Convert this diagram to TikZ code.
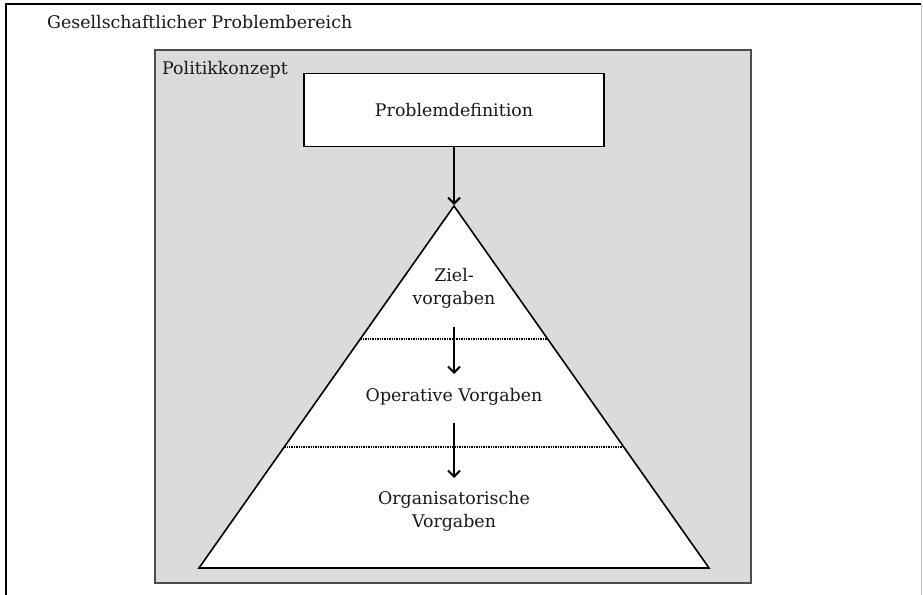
\documentclass[tikz,border=0pt]{standalone}
\usepackage{fontspec}
\setmainfont{DejaVu Serif}
\usetikzlibrary{arrows.meta,positioning,calc}

\tikzset{
  label text/.style={font=\fontsize{17.4}{23}\selectfont, align=center, inner sep=0pt, text=black!90},
  flow arrow/.style={->, line width=2pt, shorten >=1pt},
  level line/.style={densely dotted, line width=1.4pt},
}

\begin{document}
\begin{tikzpicture}[x=1pt,y=-1pt,>={Straight Barb[length=6pt,width=12pt]}]
\useasboundingbox (0,0) rectangle (923,594);

% gesellschaftlicher Rahmen (nach unten offen)
\draw[line width=1.6pt] (6,600) -- (6,4) -- (921,4);
\draw[black!25, line width=1pt] (921,4) -- (921,600);
\node[label text, anchor=west] (bereich) at (47,22) {Gesellschaftlicher Problembereich};

% Politikkonzept
\node[draw=black!70, line width=1.8pt, fill=black!14, anchor=north west,
      minimum width=596pt, minimum height=533pt, inner sep=0pt] (konzept) at (154,49) {};
\node[label text, anchor=west] (konzeptname) at (162,70) {Politikkonzept};

\node[draw, line width=1.7pt, fill=white, minimum width=300pt, minimum height=73pt,
      label text] (problem) at (454,110) {Problemdefinition};

% Pyramide
\coordinate (spitze) at (454,206);
\coordinate (basisL) at (199,568);
\coordinate (basisR) at (709,568);
\draw[line width=1.6pt, fill=white] (spitze) -- (basisR) -- (basisL) -- cycle;

\coordinate (e1L) at ($(spitze)!0.367!(basisL)$);
\coordinate (e1R) at ($(spitze)!0.367!(basisR)$);
\coordinate (e2L) at ($(spitze)!0.666!(basisL)$);
\coordinate (e2R) at ($(spitze)!0.666!(basisR)$);
\draw[level line] (e1L) -- (e1R);
\draw[level line] (e2L) -- (e2R);

\node[label text] (ziel) at (454,288) {Ziel-\\vorgaben};
\node[label text] (operativ) at (454,397) {Operative Vorgaben};
\node[label text] (organisation) at (454,511) {Organisatorische\\Vorgaben};

\coordinate (p1a) at (454,327);
\coordinate (p1b) at (454,375);
\coordinate (p2a) at (454,423);
\coordinate (p2b) at (454,479);

\draw[flow arrow] (problem.south) -- (spitze);
\draw[flow arrow] (p1a) -- (p1b);
\draw[flow arrow] (p2a) -- (p2b);
\end{tikzpicture}
\end{document}
